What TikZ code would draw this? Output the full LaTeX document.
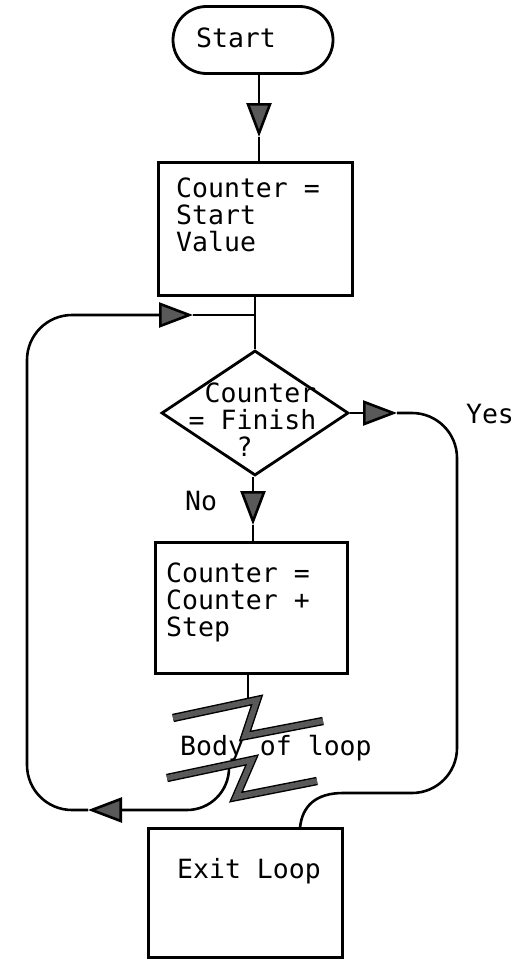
\documentclass[tikz,border=0pt]{standalone}
\usepackage{fontspec}
\newfontfamily\flowfont{DejaVu Sans Mono}
\usetikzlibrary{arrows.meta,shapes.geometric,shapes.misc}
\tikzset{
  flowline/.style={line width=2.6pt},
  flowarrow/.style={line width=2.6pt, -{Triangle[length=34pt, width=25pt, fill=black!65]}},
  terminal/.style={draw, rounded rectangle, line width=2.8pt, minimum width=160pt, minimum height=67pt, inner sep=0pt},
  procbox/.style={draw, rectangle, line width=3pt, inner sep=0pt},
  decision/.style={draw, diamond, line width=2.8pt, inner sep=0pt, minimum width=187pt, minimum height=125pt},
  flowtext/.style={inner sep=0pt, align=left, font=\flowfont\fontsize{26.5}{27}\selectfont},
  breakmark/.style={line width=1.4pt, double=black!65, double distance=5.6pt, line join=miter}
}

\begin{document}
\begin{tikzpicture}[x=1pt, y=-1pt]
  \useasboundingbox (0,0) rectangle (523,961);
  % boxes
  \node[terminal] (start) at (253,40) {};
  \node[flowtext, anchor=base] (start-text) at (236,47) {Start};
  \node[procbox, minimum width=194pt, minimum height=133pt] (init) at (255,228.5) {};
  \node[flowtext, anchor=north west] (init-text) at (176,177.5) {Counter =\\Start\\Value};
  \node[decision] (test) at (255,413) {};
  \node[flowtext, anchor=north west] (test-text) at (188.5,382.5) {\hphantom{=}Counter\\= Finish\\\hphantom{000}?};
  \node[procbox, minimum width=192pt, minimum height=131pt] (step) at (251,607.5) {};
  \node[flowtext, anchor=north west] (step-text) at (166,562.5) {Counter =\\Counter +\\Step};
  \node[procbox, minimum width=194pt, minimum height=129pt] (exit) at (245,892.5) {};
  \node[flowtext, anchor=base west] (exit-text) at (177,878) {Exit Loop};
  \node[flowtext] (yes) at (490,414) {Yes};
  \node[flowtext] (no) at (201,501) {No};

  % bends and arrow tips
  \coordinate (tipA) at (259,137);
  \coordinate (join) at (255,315);
  \coordinate (tipB) at (253,525);
  \coordinate (tipY) at (397,413);
  \coordinate (tipR) at (193,315);
  \coordinate (tipL) at (88,810);
  \coordinate (loopbl) at (27,810);
  \coordinate (looptl) at (27,315);
  \coordinate (looptr) at (457,413);
  \coordinate (loopbr) at (457,793);
  \coordinate (exitbend) at (343,793);
  \coordinate (exitin) at (300,828);
  \coordinate (bodyin) at (248,703);
  \coordinate (bodyout) at (229,767);

  \draw[flowarrow] (start.south -| tipA) -- (tipA);
  \draw[flowline] (tipA) -- (tipA |- init.north);
  \draw[flowline] (init.south) -- (join) -- (test.north);
  \draw[flowarrow] (test.south -| tipB) -- (tipB);
  \draw[flowline] (tipB) -- (tipB |- step.north);
  \draw[flowline] (step.south -| bodyin) -- (bodyin);
  % back round the loop
  \draw[flowarrow, rounded corners=42pt] (bodyout) |- (tipL);
  \draw[flowarrow, rounded corners=45pt] (tipL) -- (loopbl) -- (looptl) -- (tipR);
  \draw[flowline] (tipR) -- (join);
  % way out
  \draw[flowarrow] (test.east) -- (tipY);
  \draw[flowline, rounded corners=45pt] (tipY) -- (looptr) -- (loopbr) -- (exitbend);
  \draw[flowline] (exitbend) .. controls (316,793) and (302,806) .. (exitin);

  % break marks round the body
  \draw[breakmark] (173,718) -- (257,700) -- (245,736) -- (323,721);
  \draw[breakmark] (167,778) -- (252,760) -- (236,797) -- (317,781);
  \node[flowtext, anchor=base west] (body) at (180,755) {Body of loop};
\end{tikzpicture}
\end{document}
